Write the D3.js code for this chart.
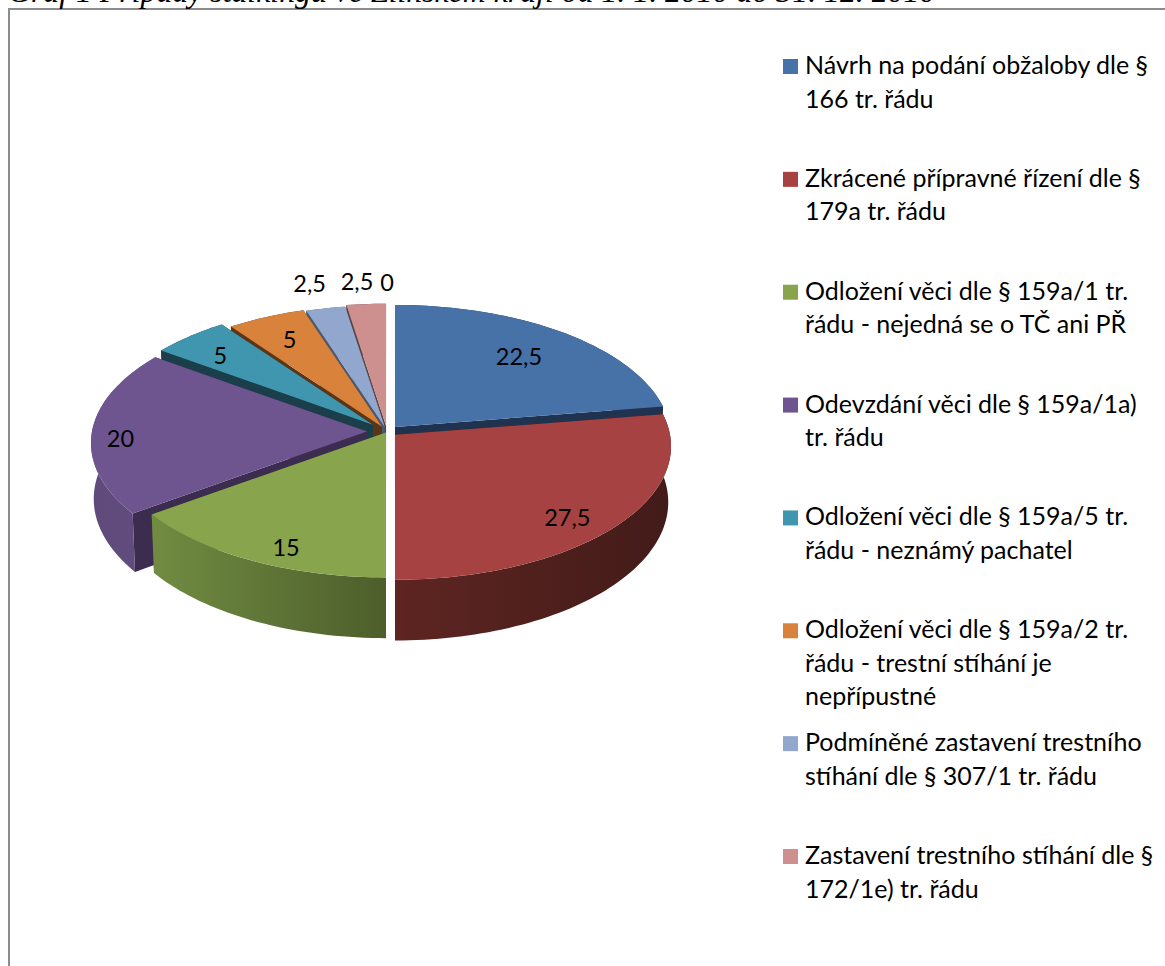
<!DOCTYPE html>
<html>
<head>
<meta charset="utf-8">
<script src="https://cdn.jsdelivr.net/npm/d3@7"></script>
<style>
  html, body { margin: 0; padding: 0; background: #fff; overflow: hidden; }
</style>
</head>
<body>
<div id="chart"></div>
<script>
// Data
const categories = [
  ['Návrh na podání obžaloby dle §', '166 tr. řádu'],
  ['Zkrácené přípravné řízení dle §', '179a tr. řádu'],
  ['Odložení věci dle § 159a/1 tr.', 'řádu - nejedná se o TČ ani PŘ'],
  ['Odevzdání věci dle § 159a/1a)', 'tr. řádu'],
  ['Odložení věci dle § 159a/5 tr.', 'řádu - neznámý pachatel'],
  ['Odložení věci dle § 159a/2 tr.', 'řádu - trestní stíhání je', 'nepřípustné'],
  ['Podmíněné zastavení trestního', 'stíhání dle § 307/1 tr. řádu'],
  ['Zastavení trestního stíhání dle §', '172/1e) tr. řádu']
];
const values = [22.5, 27.5, 15, 20, 5, 5, 2.5, 2.5, 0];
const valueLabels = ['22,5', '27,5', '15', '20', '5', '5', '2,5', '2,5', '0'];
const chartTitle = 'Graf 1 Případy stalkingu ve Zlínském kraji od 1. 1. 2010 do 31. 12. 2010';

// Styles per slice
const topColors = ['#4672a8', '#a64342', '#88a44d', '#6f5590', '#3f96ae', '#d9823b', '#91a7ce', '#ce8f8f', '#ce8f8f'];
const wallColors = ['#1f3350', '#421b18', '#4d5e2b', '#3c2c50', '#1a3f4a', '#5b3517', '#4a5870', '#5a4040', '#5a4040'];
const rimLeft = ['#1f3350', '#5e2522', '#718c42', '#5f4a7b', '#1a3f4a', '#5b3517', '#4a5870', '#5a4040', '#5a4040'];
const rimRight = ['#1f3350', '#421b18', '#4d5e2b', '#634d80', '#1a3f4a', '#5b3517', '#4a5870', '#5a4040', '#5a4040'];
const explode = [12.3, 10.5, 2.2, 20, 20, 11, 9, 12, 0];   // px, along the slice's mid angle
const labelRadius = [0.69, 0.84, 0.86, 0.9, 0.79, 0.74, 1.13, 1.12, 1.12];
const labelNudge = [[6, -4], [-12, 7], [15, 7], [1, 7], [-6, 2], [-5, -4], [-9, -10], [-7, -9], [0, -13]];

const width = 1165, height = 966;

// Perspective of the pie plane
const cx = 387, cy = 431.5;
const R = 275, squash = 132.5, persp = 0.086, depth = 55.5;

const svg = d3.select('#chart').append('svg')
  .attr('width', width)
  .attr('height', height)
  .style('display', 'block');

const defs = svg.append('defs');

// Frame, runs off the right and bottom of the picture
svg.append('path')
  .attr('d', `M9,${height}V9H${width}`)
  .attr('fill', 'none')
  .attr('stroke', '#8c8c8c')
  .attr('stroke-width', 2);

// The source image cuts the caption through the middle, so it sits half off the top
svg.append('text')
  .attr('x', 8)
  .attr('y', 2)
  .attr('font-family', '"Liberation Serif"')
  .attr('font-style', 'italic')
  .attr('font-size', 31.8)
  .attr('fill', '#000')
  .text(chartTitle);

// x,y offset on screen for a point on the unit disc, seen from the slice's apex
function project(a, r) {
  const X = r * Math.sin(a), Z = r * Math.cos(a);
  const s = 1 / (1 + persp * Z);
  return { x: R * X * s, y: -squash * Z * s, s };
}

const pie = d3.pie().value(d => d).sort(null);
const arcs = pie(values).map((d, i) => {
  const mid = (d.startAngle + d.endAngle) / 2;
  const ax = cx + explode[i] * Math.sin(mid);
  const ay = cy - explode[i] * Math.cos(mid) * squash / R;
  return Object.assign(d, { i, mid, ax, ay });
});

function topPoint(d, a, r) {
  const p = project(a, r);
  return [d.ax + p.x, d.ay + p.y];
}
// same point on the lower plane, a little further from the camera
function lowPoint(d, a, r) {
  const p = project(a, r);
  return [d.ax + p.x * 0.99, d.ay + p.y + depth * p.s];
}

const line = d3.line();

function rimAngles(d) {
  const n = Math.max(2, Math.ceil((d.endAngle - d.startAngle) * 40));
  return d3.range(n + 1).map(k => d.startAngle + (d.endAngle - d.startAngle) * k / n);
}

// Back slices first, so the nearer ones paint over them
const order = arcs.filter(d => d.value > 0).sort((a, b) => Math.cos(b.mid) - Math.cos(a.mid));

const slices = svg.append('g')
  .selectAll('g')
  .data(order)
  .join('g');

slices.each(function(d) {
  const g = d3.select(this);
  const angles = rimAngles(d);

  // radial walls
  [d.startAngle, d.endAngle].forEach(a => {
    g.append('path')
      .attr('d', line([topPoint(d, 0, 0), topPoint(d, a, 1), lowPoint(d, a, 1), lowPoint(d, 0, 0)]) + 'Z')
      .attr('fill', wallColors[d.i]);
  });

  // outer rim, gradient across its width
  const xs = angles.map(a => topPoint(d, a, 1)[0]);
  const gradId = `rim${d.i}`;
  const grad = defs.append('linearGradient')
    .attr('id', gradId)
    .attr('gradientUnits', 'userSpaceOnUse')
    .attr('x1', d3.min(xs)).attr('x2', d3.max(xs))
    .attr('y1', 0).attr('y2', 0);
  grad.append('stop').attr('offset', 0).attr('stop-color', rimLeft[d.i]);
  grad.append('stop').attr('offset', 1).attr('stop-color', rimRight[d.i]);
  const rim = angles.map(a => topPoint(d, a, 1)).concat(angles.slice().reverse().map(a => lowPoint(d, a, 1)));
  g.append('path')
    .attr('d', line(rim) + 'Z')
    .attr('fill', `url(#${gradId})`);

  // top face
  const top = [topPoint(d, 0, 0)].concat(angles.map(a => topPoint(d, a, 1)));
  g.append('path')
    .attr('d', line(top) + 'Z')
    .attr('fill', topColors[d.i]);
});

// Value labels
svg.append('g')
  .attr('font-family', 'Lato, "Open Sans", sans-serif')
  .attr('font-size', 23.5)
  .attr('fill', '#000')
  .attr('text-anchor', 'middle')
  .selectAll('text')
  .data(arcs)
  .join('text')
    .attr('dy', '0.35em')
    .attr('x', d => topPoint(d, d.mid, labelRadius[d.i])[0] + labelNudge[d.i][0])
    .attr('y', d => topPoint(d, d.mid, labelRadius[d.i])[1] + labelNudge[d.i][1])
    .text(d => valueLabels[d.i]);

// Legend
const legendY = d3.scalePoint()
  .domain(d3.range(categories.length))
  .range([66, 856]);

const legend = svg.append('g')
  .attr('font-family', 'Lato, "Open Sans", sans-serif')
  .attr('font-size', 25)
  .attr('fill', '#000')
  .selectAll('g')
  .data(categories)
  .join('g')
    .attr('transform', (d, i) => `translate(783,${legendY(i)})`);

legend.append('rect')
  .attr('y', -7)
  .attr('width', 15)
  .attr('height', 15)
  .attr('fill', (d, i) => topColors[i]);

legend.selectAll('text')
  .data(d => d)
  .join('text')
    .attr('x', 22)
    .attr('y', (d, k) => 8 + k * 33.5)
    .text(d => d);
</script>
</body>
</html>
